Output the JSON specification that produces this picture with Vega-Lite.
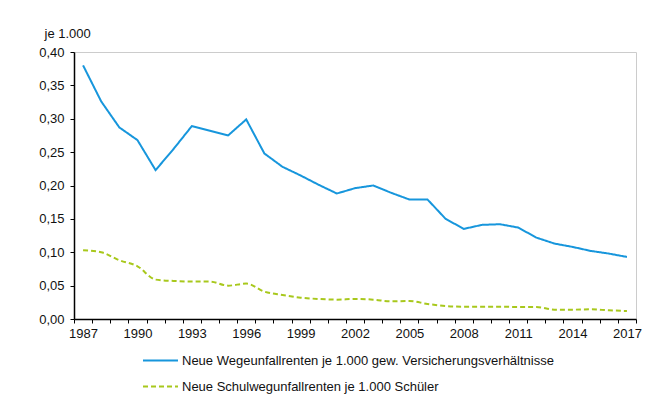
{
  "$schema": "https://vega.github.io/schema/vega-lite/v6.json",
  "autosize": {"type": "none"},
  "padding": {"left": 74, "top": 52, "right": 35, "bottom": 86},
  "width": 562,
  "height": 267,
  "background": "white",
  "config": {
    "font": "Liberation Sans",
    "view": {"stroke": "#cccccc", "strokeWidth": 1},
    "axis": {"labelFont": "Liberation Sans", "labelFontSize": 13, "labelColor": "#111111", "domainColor": "#000000", "domainWidth": 1.5, "tickColor": "#000000", "tickSize": 4, "grid": false}
  },
  "data": {"values": [
    {"year": 1987, "series": "A", "value": 0.380},
    {"year": 1988, "series": "A", "value": 0.326},
    {"year": 1989, "series": "A", "value": 0.287},
    {"year": 1990, "series": "A", "value": 0.268},
    {"year": 1991, "series": "A", "value": 0.223},
    {"year": 1992, "series": "A", "value": 0.255},
    {"year": 1993, "series": "A", "value": 0.289},
    {"year": 1994, "series": "A", "value": 0.282},
    {"year": 1995, "series": "A", "value": 0.275},
    {"year": 1996, "series": "A", "value": 0.299},
    {"year": 1997, "series": "A", "value": 0.248},
    {"year": 1998, "series": "A", "value": 0.228},
    {"year": 1999, "series": "A", "value": 0.215},
    {"year": 2000, "series": "A", "value": 0.201},
    {"year": 2001, "series": "A", "value": 0.188},
    {"year": 2002, "series": "A", "value": 0.196},
    {"year": 2003, "series": "A", "value": 0.200},
    {"year": 2004, "series": "A", "value": 0.189},
    {"year": 2005, "series": "A", "value": 0.179},
    {"year": 2006, "series": "A", "value": 0.179},
    {"year": 2007, "series": "A", "value": 0.150},
    {"year": 2008, "series": "A", "value": 0.135},
    {"year": 2009, "series": "A", "value": 0.141},
    {"year": 2010, "series": "A", "value": 0.142},
    {"year": 2011, "series": "A", "value": 0.137},
    {"year": 2012, "series": "A", "value": 0.122},
    {"year": 2013, "series": "A", "value": 0.113},
    {"year": 2014, "series": "A", "value": 0.108},
    {"year": 2015, "series": "A", "value": 0.102},
    {"year": 2016, "series": "A", "value": 0.098},
    {"year": 2017, "series": "A", "value": 0.093},
    {"year": 1987, "series": "B", "value": 0.103},
    {"year": 1988, "series": "B", "value": 0.100},
    {"year": 1989, "series": "B", "value": 0.088},
    {"year": 1990, "series": "B", "value": 0.079},
    {"year": 1991, "series": "B", "value": 0.059},
    {"year": 1992, "series": "B", "value": 0.057},
    {"year": 1993, "series": "B", "value": 0.056},
    {"year": 1994, "series": "B", "value": 0.056},
    {"year": 1995, "series": "B", "value": 0.050},
    {"year": 1996, "series": "B", "value": 0.053},
    {"year": 1997, "series": "B", "value": 0.041},
    {"year": 1998, "series": "B", "value": 0.036},
    {"year": 1999, "series": "B", "value": 0.032},
    {"year": 2000, "series": "B", "value": 0.030},
    {"year": 2001, "series": "B", "value": 0.029},
    {"year": 2002, "series": "B", "value": 0.030},
    {"year": 2003, "series": "B", "value": 0.029},
    {"year": 2004, "series": "B", "value": 0.0265},
    {"year": 2005, "series": "B", "value": 0.027},
    {"year": 2006, "series": "B", "value": 0.0225},
    {"year": 2007, "series": "B", "value": 0.0195},
    {"year": 2008, "series": "B", "value": 0.0185},
    {"year": 2009, "series": "B", "value": 0.0185},
    {"year": 2010, "series": "B", "value": 0.0185},
    {"year": 2011, "series": "B", "value": 0.018},
    {"year": 2012, "series": "B", "value": 0.018},
    {"year": 2013, "series": "B", "value": 0.014},
    {"year": 2014, "series": "B", "value": 0.014},
    {"year": 2015, "series": "B", "value": 0.0145},
    {"year": 2016, "series": "B", "value": 0.013},
    {"year": 2017, "series": "B", "value": 0.012}
  ]},
  "transform": [
    {"lookup": "series", "from": {"data": {"values": [
      {"series": "A", "label": "Neue Wegeunfallrenten je 1.000 gew. Versicherungsverhältnisse"},
      {"series": "B", "label": "Neue Schulwegunfallrenten je 1.000 Schüler"}
    ]}, "key": "series", "fields": ["label"]}}
  ],
  "encoding": {
    "x": {"field": "year", "type": "ordinal", "bandPosition": 0.5,
      "scale": {"type": "band", "paddingInner": 0, "paddingOuter": 0},
      "axis": {"title": null, "labelAngle": 0, "tickBand": "extent", "labelPadding": 4,
        "labelExpr": "(datum.value - 1987) % 3 == 0 ? datum.value : ''"}},
    "y": {"field": "value", "type": "quantitative",
      "scale": {"domain": [0, 0.4], "nice": false, "zero": true},
      "axis": {"values": [0, 0.05, 0.1, 0.15, 0.2, 0.25, 0.3, 0.35, 0.4],
        "labelExpr": "replace(format(datum.value, '.2f'), '.', ',')",
        "labelPadding": 6,
        "title": "je 1.000", "titleAngle": 0, "titleAlign": "left", "titleBaseline": "middle",
        "titleX": -30, "titleY": -19, "titleFont": "Liberation Sans", "titleFontSize": 13, "titleFontWeight": "normal", "titleColor": "#111111"}},
    "color": {"field": "label", "type": "nominal",
      "scale": {"domain": ["Neue Wegeunfallrenten je 1.000 gew. Versicherungsverhältnisse", "Neue Schulwegunfallrenten je 1.000 Schüler"], "range": ["#1796dc", "#a8c81c"]},
      "legend": {"title": null, "orient": "none", "legendX": 68, "legendY": 290, "direction": "vertical",
        "symbolType": "stroke", "symbolSize": 1225, "symbolStrokeWidth": 2,
        "labelFont": "Liberation Sans", "labelFontSize": 13, "labelColor": "#111111", "labelOffset": 3, "rowPadding": -11, "labelLimit": 500}},
    "strokeDash": {"field": "label", "type": "nominal",
      "scale": {"domain": ["Neue Wegeunfallrenten je 1.000 gew. Versicherungsverhältnisse", "Neue Schulwegunfallrenten je 1.000 Schüler"], "range": [[1, 0], [5, 3]]},
      "legend": {"title": null}}
  },
  "layer": [
    {"transform": [{"filter": "datum.series == 'A'"}], "mark": {"type": "line", "strokeWidth": 2, "interpolate": "linear"}},
    {"transform": [{"filter": "datum.series == 'B'"}], "mark": {"type": "line", "strokeWidth": 2, "interpolate": "monotone"}}
  ]
}
